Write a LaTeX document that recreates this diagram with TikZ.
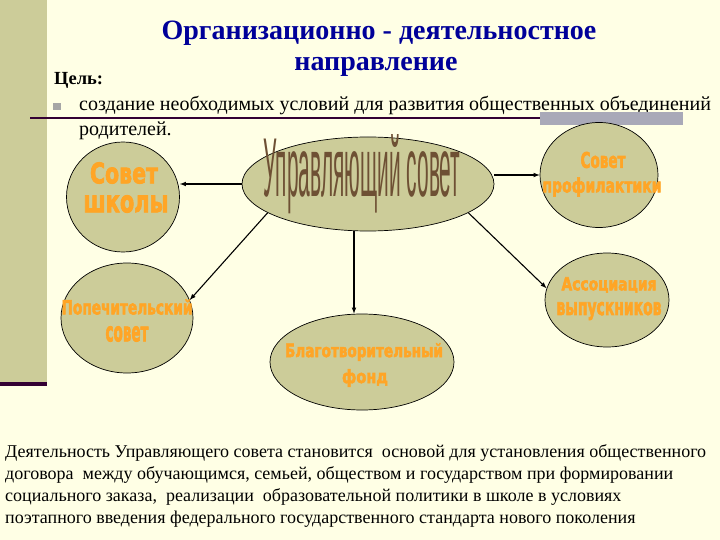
\documentclass[tikz,border=0pt]{standalone}
\usepackage{fontspec}
\setmainfont{Liberation Serif}
\setsansfont{Liberation Sans}
\newfontfamily\wafont{DejaVu Sans}[BoldFeatures={FakeBold=3}]
\usepackage{graphicx}
\usetikzlibrary{shapes.geometric}

\definecolor{fon}{HTML}{FFFFE5}
\definecolor{haki}{HTML}{CCCC99}
\definecolor{sinij}{HTML}{000099}
\definecolor{baklazhan}{HTML}{330033}
\definecolor{seryj}{HTML}{A9A9B8}
\definecolor{oranzh}{HTML}{FFA526}
\definecolor{korich}{HTML}{6E5034}

\tikzset{
  krug/.style={ellipse, draw=black, fill=haki, line width=0.7pt, inner sep=0pt},
  wart/.style={text=oranzh, font=\wafont\bfseries, inner sep=0pt},
  strelka/.style={->, line width=1.1pt},
}
% WordArt-like label: width, height, text
\newcommand{\wa}[3]{\resizebox{#1pt}{#2pt}{#3}}

\begin{document}
\begin{tikzpicture}[x=1pt, y=-1pt, >=latex]

        % --- Fon i levaja polosa ---
        \useasboundingbox[fill=fon] (0,0) rectangle (720,540);
        \fill[haki] (0,0) rectangle (47,382);
        \fill[baklazhan] (0,382) rectangle (47,386);

        % --- Zagolovok ---
        \node[text=sinij, font=\fontsize{28}{32}\selectfont\bfseries, anchor=base, inner sep=0pt] (zag1) at (379,40) {Организационно - деятельностное};
        \node[text=sinij, font=\fontsize{28}{32}\selectfont\bfseries, anchor=base, inner sep=0pt] (zag2) at (376,71) {направление};

        % --- Cel' ---
        \node[font=\fontsize{18.5}{20}\selectfont\bfseries, anchor=base west, inner sep=0pt] (cel) at (54,85) {Цель:};
        \fill[gray!70] (53,103) rectangle (61,110);
        \node[font=\fontsize{20}{22}\selectfont, anchor=base west, inner sep=0pt] (punkt) at (79,111) {создание необходимых условий для развития общественных объединений};
        \node[font=\fontsize{20}{22}\selectfont, anchor=base west, inner sep=0pt] (punkt2) at (79,136) {родителей.};
        \draw[baklazhan, line width=2pt] (30,118) -- (540,118);
        \fill[seryj] (540,112) rectangle (683,125);

        % ==========================================
        % Ovaly
        % ==========================================
        \node[krug, minimum width=252pt, minimum height=94pt] (upr) at (368,184) {};
        \node[krug, minimum width=113pt, minimum height=110pt] (shk) at (123,197) {};
        \node[krug, minimum width=118pt, minimum height=105pt] (prof) at (599,175) {};
        \node[krug, minimum width=132pt, minimum height=110pt] (pop) at (127,318) {};
        \node[krug, minimum width=124pt, minimum height=94pt] (assoc) at (607,300) {};
        \node[krug, minimum width=184pt, minimum height=96pt] (fond) at (362,362) {};

        % --- Nadpisi ---
        \node[text=korich, font=\sffamily, inner sep=0pt] (uprT) at (362,174) {\wa{197}{62}{Управляющий совет}};
        \node[wart] (shkT1) at (124,173) {\wa{68}{21}{Совет}};
        \node[wart] (shkT2) at (126,204) {\wa{85}{17}{школы}};
        \node[wart] (profT1) at (603,160) {\wa{45}{16}{Совет}};
        \node[wart] (profT2) at (602,187) {\wa{119}{15}{профилактики}};
        \node[wart] (popT1) at (127,307) {\wa{131}{15}{Попечительский}};
        \node[wart] (popT2) at (127,334) {\wa{43}{15}{совет}};
        \node[wart] (assocT1) at (609,285) {\wa{95}{13}{Ассоциация}};
        \node[wart] (assocT2) at (609,311) {\wa{105}{13}{выпускников}};
        \node[wart] (fondT1) at (364,352) {\wa{158}{14}{Благотворительный}};
        \node[wart] (fondT2) at (365,378) {\wa{46}{14}{фонд}};

        % ==========================================
        % Strelki
        % ==========================================
        \draw[strelka] (upr.west) -- (upr.west -| shk.east);
        \draw[strelka] (prof.west -| upr.east) -- (prof.west);
        \draw[strelka] (upr.196) -- (pop.16);
        \draw[strelka] ([xshift=-8pt]fond.north |- upr.south) -- ([xshift=-8pt]fond.north);
        \draw[strelka] (upr.344) -- (assoc.169);

        % --- Tekst vnizu ---
        \node[font=\fontsize{18}{22}\selectfont, align=left, anchor=base west, inner sep=0pt] (niz) at (5,523)
          {Деятельность Управляющего совета становится \ основой для установления общественного\\
           договора \ между обучающимся, семьей, обществом и государством при формировании\\
           социального заказа, \ реализации \ образовательной политики в школе в условиях\\
           поэтапного введения федерального государственного стандарта нового поколения};

\end{tikzpicture}
\end{document}
